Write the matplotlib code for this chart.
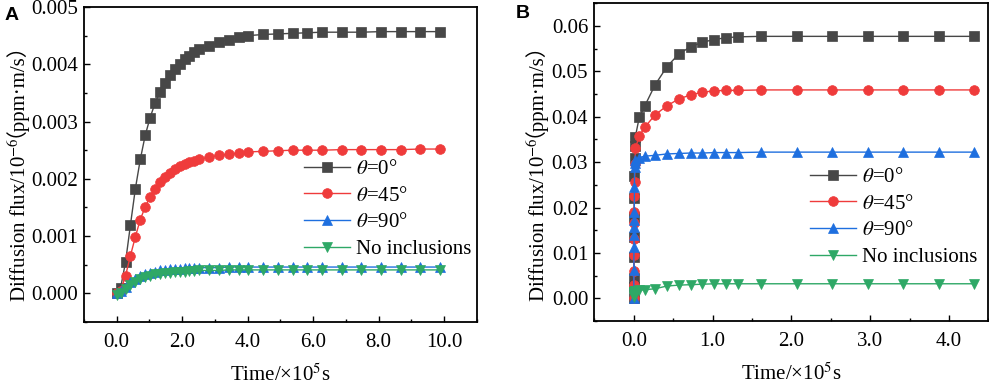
import matplotlib
matplotlib.use("Agg")
import matplotlib.pyplot as plt
from matplotlib.ticker import MultipleLocator, FormatStrFormatter

# ---------------- data ----------------
labels = [r"$\theta$=0°", r"$\theta$=45°", r"$\theta$=90°", "No inclusions"]
colors = ["#474747", "#EF3B3B", "#1E6FDF", "#2EA866"]
markers = ["s", "o", "^", "v"]

# Panel A (time in 1e5 s)
tA = [0.0, 0.12, 0.27, 0.42, 0.57, 0.72, 0.87, 1.02, 1.17, 1.32, 1.47, 1.62,
      1.77, 1.92, 2.07, 2.22, 2.37, 2.52, 2.82, 3.12, 3.42, 3.72, 4.02, 4.47,
      4.92, 5.37, 5.82, 6.27, 6.87, 7.47, 8.07, 8.67, 9.27, 9.87]
A_theta0 = [0.0, 0.0001, 0.00055, 0.0012, 0.00183, 0.00234, 0.00276, 0.00307,
            0.00332, 0.00352, 0.00368, 0.00381, 0.00392, 0.00401, 0.00409,
            0.00415, 0.00421, 0.00426, 0.00432, 0.00439, 0.00443, 0.00447,
            0.0045, 0.00452, 0.00453, 0.00454, 0.00455, 0.00456, 0.00456,
            0.00456, 0.00457, 0.00457, 0.00457, 0.00457]
A_theta45 = [0.0, 0.00005, 0.00031, 0.00066, 0.00099, 0.00129, 0.00151,
             0.00169, 0.00183, 0.00195, 0.00204, 0.00211, 0.00217, 0.00222,
             0.00226, 0.00229, 0.00232, 0.00234, 0.00238, 0.00241, 0.00243,
             0.00245, 0.00247, 0.00248, 0.00249, 0.0025, 0.0025, 0.0025,
             0.00251, 0.00251, 0.00251, 0.00251, 0.00252, 0.00252]
A_theta90 = [0.0, 0.00004, 0.00012, 0.0002, 0.00026, 0.0003, 0.00034, 0.00036,
             0.00038, 0.0004, 0.00041, 0.00042, 0.00043, 0.00043, 0.00044,
             0.00044, 0.00045, 0.00045, 0.00045, 0.00045, 0.00046, 0.00046,
             0.00046, 0.00046, 0.00046, 0.00046, 0.00046, 0.00046, 0.00046,
             0.00046, 0.00046, 0.00046, 0.00046, 0.00046]
A_none = [-0.00003, 0.00001, 0.00008, 0.00015, 0.0002, 0.00025, 0.00028,
          0.00031, 0.00033, 0.00034, 0.00035, 0.00036, 0.00037, 0.00038,
          0.00038, 0.00039, 0.00039, 0.0004, 0.0004, 0.0004, 0.00041, 0.00041,
          0.00041, 0.00041, 0.00041, 0.00041, 0.00041, 0.00041, 0.00041,
          0.00041, 0.00041, 0.00041, 0.00041, 0.00041]

# Panel B (time in 1e5 s)
tB = [0.0, 0.001, 0.002, 0.003, 0.004, 0.005, 0.006, 0.008, 0.01, 0.015, 0.02,
      0.07, 0.14, 0.27, 0.42, 0.57, 0.72, 0.87, 1.02, 1.17, 1.32, 1.62, 2.07,
      2.52, 2.97, 3.42, 3.87, 4.32]
B_theta0 = [0.0, 0.0025, 0.0044, 0.009, 0.0136, 0.018, 0.0222, 0.027, 0.031,
            0.0335, 0.0356, 0.0399, 0.0424, 0.047, 0.051, 0.0538, 0.0554,
            0.0564, 0.057, 0.0574, 0.0576, 0.0577, 0.0577, 0.0577, 0.0577,
            0.0577, 0.0577, 0.0577]
B_theta45 = [0.0, 0.003, 0.006, 0.0095, 0.013, 0.0165, 0.0191, 0.0225, 0.0257,
             0.0295, 0.033, 0.0358, 0.0377, 0.0404, 0.0424, 0.0439, 0.0448,
             0.0454, 0.0457, 0.0458, 0.0458, 0.0459, 0.0459, 0.0459, 0.0459,
             0.0459, 0.0459, 0.0459]
B_theta90 = [0.0, 0.0062, 0.0114, 0.0139, 0.0158, 0.0172, 0.019, 0.0246, 0.029,
             0.0298, 0.0305, 0.031, 0.0313, 0.0315, 0.0318, 0.0319, 0.032,
             0.032, 0.0321, 0.0321, 0.0321, 0.0322, 0.0322, 0.0322, 0.0322,
             0.0322, 0.0322, 0.0322]
B_none = [0.001, 0.0003, 0.0006, 0.0009, 0.0011, 0.0012, 0.0013, 0.0014,
          0.0015, 0.0016, 0.0017, 0.0018, 0.0019, 0.0021, 0.0027, 0.0029,
          0.003, 0.0031, 0.0032, 0.0032, 0.0032, 0.0032, 0.0032, 0.0032,
          0.0032, 0.0032, 0.0032, 0.0032]

xlabel = "Time/×10$^5$s"
ylabel_main = "Diffusion flux/10$^{-6}$"
ylabel_unit = "（ppm·m/s）"

# ---------------- style ----------------
plt.rcParams["font.family"] = ["Liberation Serif", "DejaVu Serif"]
plt.rcParams["mathtext.fontset"] = "stix"
FS = 15

fig = plt.figure(figsize=(9.89, 3.88), dpi=100)
axA = fig.add_axes([0.0849, 0.170, 0.3974, 0.812])
axB = fig.add_axes([0.6010, 0.1727, 0.3984, 0.819])


def style_axes(ax, xmaj, xmin, ymaj, ymin, xfmt, yfmt):
    ax.xaxis.set_major_locator(MultipleLocator(xmaj))
    ax.xaxis.set_minor_locator(MultipleLocator(xmin))
    ax.yaxis.set_major_locator(MultipleLocator(ymaj))
    ax.yaxis.set_minor_locator(MultipleLocator(ymin))
    ax.xaxis.set_major_formatter(FormatStrFormatter(xfmt))
    ax.yaxis.set_major_formatter(FormatStrFormatter(yfmt))
    ax.tick_params(which="both", direction="in", width=1.0, labelsize=FS)
    ax.tick_params(which="major", length=4.5)
    ax.tick_params(which="minor", length=2.5)
    ax.tick_params(axis="x", which="major", pad=8)
    ax.tick_params(axis="y", which="major", pad=4.5)
    for s in ax.spines.values():
        s.set_linewidth(1.3)


series_A = [A_theta0, A_theta45, A_theta90, A_none]
series_B = [B_theta0, B_theta45, B_theta90, B_none]

for ax, t, series in [(axA, tA, series_A), (axB, tB, series_B)]:
    for y, c, m, lab in zip(series, colors, markers, labels):
        ax.plot(t, y, color=c, marker=m, markersize=7, mec=c, mew=0.5,
                lw=1.0, label=lab)

axA.set_xlim(-1.0, 11.0)
axA.set_ylim(-0.0005, 0.005)
style_axes(axA, 2.0, 1.0, 0.001, 0.0005, "%.1f", "%.3f")
axB.set_xlim(-0.5, 4.5)
axB.set_ylim(-0.005, 0.065)
style_axes(axB, 1.0, 0.5, 0.01, 0.005, "%.1f", "%.2f")

for ax in (axA, axB):
    ax.set_xlabel(xlabel, fontsize=FS, labelpad=9)

legA = axA.legend(loc="center left", bbox_to_anchor=(0.56, 0.358), frameon=False,
                  fontsize=FS, handlelength=2.2, handletextpad=0.3,
                  labelspacing=0.34, borderpad=0, borderaxespad=0)
legB = axB.legend(loc="center left", bbox_to_anchor=(0.547, 0.327), frameon=False,
                  fontsize=FS, handlelength=2.2, handletextpad=0.3,
                  labelspacing=0.34, borderpad=0, borderaxespad=0)

# y labels made of two pieces (CJK full-width brackets need a fallback font)
for ax, xa, ya in [(axA, -0.163, 0.0635), (axB, -0.140, 0.061)]:
    t1 = ax.text(xa, ya, ylabel_main, rotation=90, transform=ax.transAxes,
                 ha="center", va="bottom", fontsize=FS)
    ax.annotate(ylabel_unit, xy=(1.0, 1.0), xycoords=t1, rotation=90,
                xytext=(-11.5, 0), textcoords="offset points",
                ha="right", va="bottom", fontsize=FS,
                family=["Liberation Serif", "Noto Sans CJK SC"])

fig.text(5 / 989, 1 - 7 / 388, "A", fontsize=14, fontweight="bold",
         family="Liberation Sans", va="top", ha="left")
fig.text(516 / 989, 1 - 5 / 388, "B", fontsize=14, fontweight="bold",
         family="Liberation Sans", va="top", ha="left")

fig.savefig("out.png", dpi=100)
